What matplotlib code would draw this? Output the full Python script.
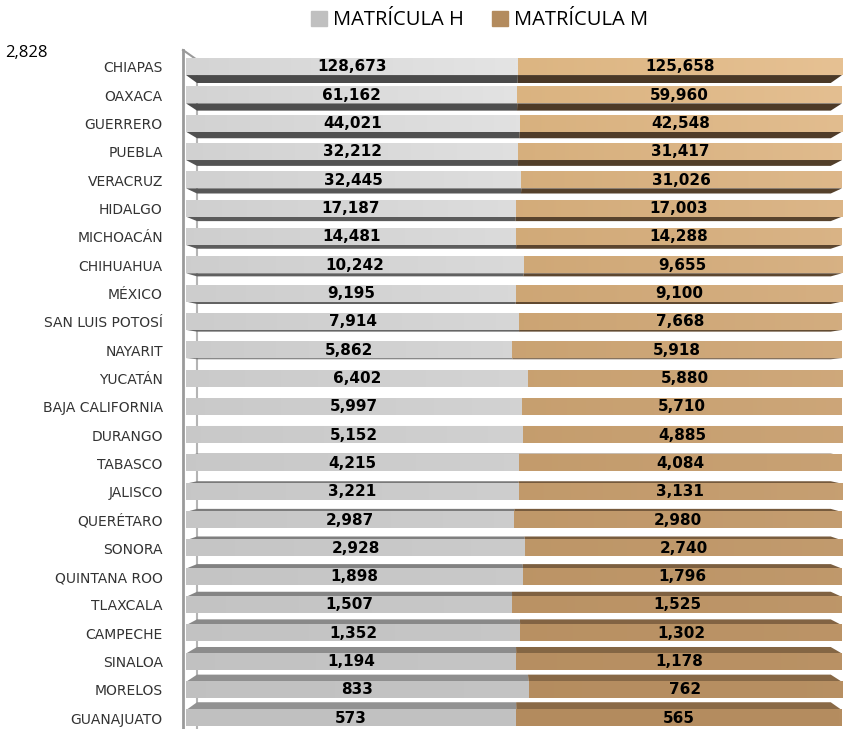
import matplotlib.pyplot as plt
import numpy as np
from matplotlib.colors import to_rgb

estados = ["CHIAPAS", "OAXACA", "GUERRERO", "PUEBLA", "VERACRUZ", "HIDALGO",
           "MICHOACÁN", "CHIHUAHUA", "MÉXICO", "SAN LUIS POTOSÍ", "NAYARIT",
           "YUCATÁN", "BAJA CALIFORNIA", "DURANGO", "TABASCO", "JALISCO",
           "QUERÉTARO", "SONORA", "QUINTANA ROO", "TLAXCALA", "CAMPECHE",
           "SINALOA", "MORELOS", "GUANAJUATO"]
matricula_h = [128673, 61162, 44021, 32212, 32445, 17187, 14481, 10242, 9195,
               7914, 5862, 6402, 5997, 5152, 4215, 3221, 2987, 2928, 1898,
               1507, 1352, 1194, 833, 573]
matricula_m = [125658, 59960, 42548, 31417, 31026, 17003, 14288, 9655, 9100,
               7668, 5918, 5880, 5710, 4885, 4084, 3131, 2980, 2740, 1796,
               1525, 1302, 1178, 762, 565]


def mix(c1, c2, t):
    a, b = np.array(to_rgb(c1)), np.array(to_rgb(c2))
    return tuple(a + (b - a) * t)


h = np.array(matricula_h, float)
m = np.array(matricula_m, float)
ph = h / (h + m)
n = len(estados)
y = np.arange(n)

fig = plt.figure(figsize=(8.46, 7.29), dpi=100)
ax = fig.add_axes([0.2121, 0.0, 0.7832, 0.9314])
ax.set_xlim(-0.01, 1.0)
ax.set_ylim(23.38, -0.6)

bh = 0.57
# back wall + side wall lines
ax.plot([0.0168, 0.0168], [-0.3, 23.38], color="#b4b4b4", lw=1.5, zorder=0)
ax.plot([-0.0046, -0.0046], [-0.6, 23.38], color="#9a9a9a", lw=2, zorder=0,
        clip_on=False)
ax.plot([-0.0046, 0.0168], [-0.6, -0.25], color="#9a9a9a", lw=1.5, zorder=0,
        clip_on=False)


def back(x):
    return 0.0168 + x * 0.966


for i in range(n):
    t = i / (n - 1)
    dy = 0.28 * (1 - 2 * t)  # side face below at top, above at bottom
    edge = y[i] + bh / 2 if dy > 0 else y[i] - bh / 2
    segs = [(0, ph[i], mix("#d4d4d4", "#c0c0c0", t), mix("#4a4a4a", "#929292", t),
             mix("#e4e4e4", "#c2c2c2", t)),
            (ph[i], 1, mix("#dcb582", "#b38b5e", t), mix("#4a3826", "#8a6a47", t),
             mix("#e6c193", "#b58d60", t))]
    for a, b, cf, cs, cf2 in segs:
        ax.fill([a, b, back(b), back(a)], [edge, edge, edge + dy, edge + dy],
                color=cs, lw=0, zorder=1)
        # light horizontal gradient on the front face
        grad = np.linspace(0, 1, 64)[None, :, None]
        img = np.array(cf)[None, None, :] * (1 - grad) + np.array(cf2)[None, None, :] * grad
        ax.imshow(img, extent=[a, b, y[i] + bh / 2, y[i] - bh / 2],
                  aspect="auto", zorder=2, interpolation="bilinear")
    ax.text(ph[i] / 2, y[i], f"{matricula_h[i]:,}", ha="center", va="center",
            fontsize=11, fontweight="bold", color="black", zorder=3)
    ax.text((ph[i] + 1) / 2, y[i], f"{matricula_m[i]:,}", ha="center",
            va="center", fontsize=11, fontweight="bold", color="black", zorder=3)

ax.set_xlim(-0.01, 1.0)
ax.set_ylim(23.38, -0.6)
ax.set_yticks(y)
ax.set_yticklabels(estados, fontsize=10, family="DejaVu Sans", color="#333333")
ax.tick_params(axis="y", length=0, pad=12)
ax.set_xticks([])
for s in ax.spines.values():
    s.set_visible(False)

hh = plt.Rectangle((0, 0), 1, 1, color="#c0c0c0")
hm = plt.Rectangle((0, 0), 1, 1, color="#b38b5e")
fig.legend([hh, hm], ["MATRÍCULA H", "MATRÍCULA M"], loc="center",
           bbox_to_anchor=(0.567, 0.972), ncol=2, frameon=False,
           prop={"family": "Open Sans", "size": 14.5}, handlelength=0.8,
           handleheight=0.8, handletextpad=0.3, columnspacing=1.4)
fig.text(0.006, 0.927, "2,828", fontsize=12, family="Open Sans", va="center")

fig.savefig("out.png", dpi=100)
